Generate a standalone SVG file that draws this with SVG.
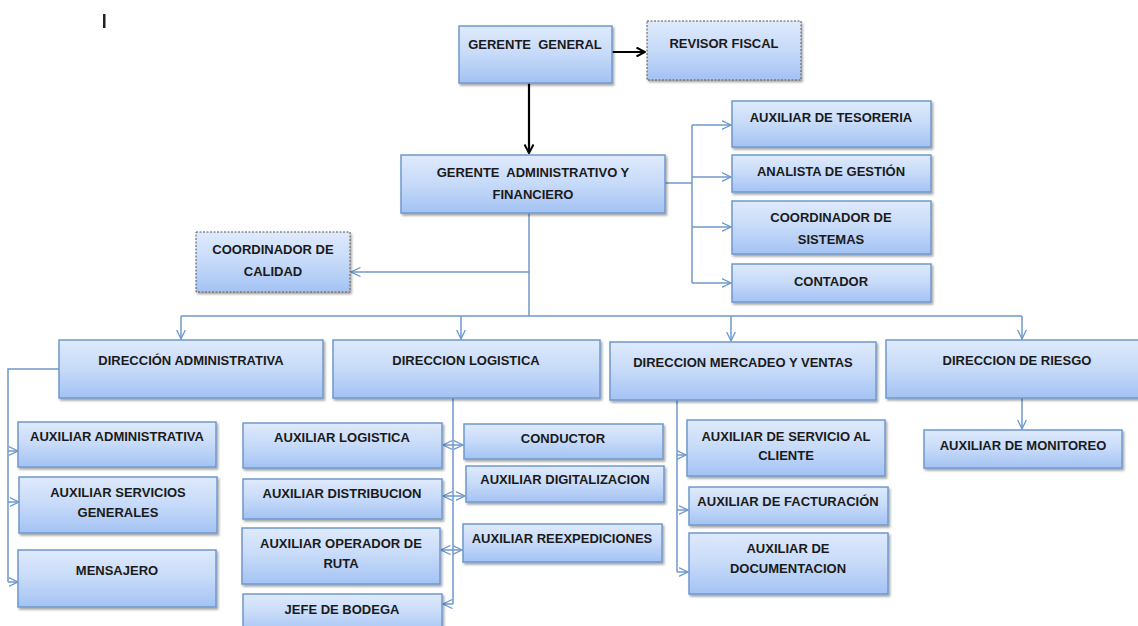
<svg xmlns="http://www.w3.org/2000/svg" width="1138" height="626" viewBox="0 0 1138 626">
<defs>
<linearGradient id="g" x1="0" y1="0" x2="0" y2="1">
<stop offset="0" stop-color="#dfeafc"/>
<stop offset="0.5" stop-color="#c6daf9"/>
<stop offset="1" stop-color="#a3c2f3"/>
</linearGradient>
<filter id="sh" x="-5%" y="-5%" width="112%" height="125%">
<feDropShadow dx="1.5" dy="2" stdDeviation="1.2" flood-color="#000" flood-opacity="0.35"/>
</filter>
<marker id="ao" viewBox="0 0 10 10" refX="9.5" refY="5" markerWidth="10" markerHeight="10" markerUnits="userSpaceOnUse" orient="auto-start-reverse">
<path d="M0,0.5 L9.5,5 L0,9.5" fill="none" stroke="#6f98cc" stroke-width="1.3"/>
</marker>
<marker id="ab" viewBox="0 0 10 10" refX="9" refY="5" markerWidth="10" markerHeight="10" markerUnits="userSpaceOnUse" orient="auto">
<path d="M0.5,0.5 L9,5 L0.5,9.5" fill="none" stroke="#000" stroke-width="2"/>
</marker>
</defs>
<style>
.n{fill:url(#g);stroke:#6f98cc;stroke-width:1.5;filter:url(#sh)}
.d{fill:url(#g);stroke:#555;stroke-width:1;stroke-dasharray:2 1.5;filter:url(#sh)}
.t{font-family:"Liberation Sans",Arial,sans-serif;font-weight:bold;font-size:13px;fill:#1a1a1a;text-anchor:middle;white-space:pre}
.c{fill:none;stroke:#6f98cc;stroke-width:1.5}
.k{fill:none;stroke:#000;stroke-width:2.2}
</style>
<rect x="103" y="14" width="2.5" height="14" fill="#222"/>
<g id="connectors">
<path class="k" d="M612,52 H645" marker-end="url(#ab)"/>
<path class="k" d="M529,83 V153" marker-end="url(#ab)"/>
<path class="c" d="M665,183 H692"/>
<path class="c" d="M692,125 V283"/>
<path class="c" d="M692,125 H731" marker-end="url(#ao)"/>
<path class="c" d="M692,177 H731" marker-end="url(#ao)"/>
<path class="c" d="M692,227 H731" marker-end="url(#ao)"/>
<path class="c" d="M692,283 H731" marker-end="url(#ao)"/>
<path class="c" d="M529,213 V316"/>
<path class="c" d="M529,272 H351" marker-end="url(#ao)"/>
<path class="c" d="M181,316 H1022"/>
<path class="c" d="M181,316 V339" marker-end="url(#ao)"/>
<path class="c" d="M461,316 V339" marker-end="url(#ao)"/>
<path class="c" d="M731,316 V341" marker-end="url(#ao)"/>
<path class="c" d="M1022,316 V339" marker-end="url(#ao)"/>
<path class="c" d="M59,369 H8 V582"/>
<path class="c" d="M8,451 H18" marker-end="url(#ao)"/>
<path class="c" d="M8,502 H19" marker-end="url(#ao)"/>
<path class="c" d="M8,582 H18" marker-end="url(#ao)"/>
<path class="c" d="M453,398 V604"/>
<path class="c" d="M443,445 H463" marker-start="url(#ao)" marker-end="url(#ao)"/>
<path class="c" d="M443,496 H465" marker-start="url(#ao)" marker-end="url(#ao)"/>
<path class="c" d="M441,550 H462" marker-start="url(#ao)" marker-end="url(#ao)"/>
<path class="c" d="M453,604 H443" marker-end="url(#ao)"/>
<path class="c" d="M677,400 V572"/>
<path class="c" d="M677,455 H686" marker-end="url(#ao)"/>
<path class="c" d="M677,510 H688" marker-end="url(#ao)"/>
<path class="c" d="M677,572 H688" marker-end="url(#ao)"/>
<path class="c" d="M1022,398 V429" marker-end="url(#ao)"/>
</g>
<g id="gerente-general"><rect class="n" x="459" y="26" width="153" height="57"/><text class="t" x="535" y="49" xml:space="preserve">GERENTE  GENERAL</text></g>
<g id="revisor-fiscal"><rect class="d" x="647" y="21" width="154" height="59"/><text class="t" x="724" y="48">REVISOR FISCAL</text></g>
<g id="gerente-admin"><rect class="n" x="401" y="155" width="264" height="58"/><text class="t" x="533" y="177" xml:space="preserve">GERENTE  ADMINISTRATIVO Y</text><text class="t" x="533" y="199">FINANCIERO</text></g>
<g id="aux-tesoreria"><rect class="n" x="732" y="101" width="199" height="46"/><text class="t" x="831" y="122">AUXILIAR DE TESORERIA</text></g>
<g id="analista-gestion"><rect class="n" x="732" y="155" width="199" height="37"/><text class="t" x="831" y="176">ANALISTA DE GESTIÓN</text></g>
<g id="coord-sistemas"><rect class="n" x="732" y="201" width="199" height="53"/><text class="t" x="831" y="222">COORDINADOR DE</text><text class="t" x="831" y="244">SISTEMAS</text></g>
<g id="contador"><rect class="n" x="732" y="264" width="199" height="38"/><text class="t" x="831" y="286">CONTADOR</text></g>
<g id="coord-calidad"><rect class="d" x="196" y="232" width="154" height="60"/><text class="t" x="273" y="254">COORDINADOR DE</text><text class="t" x="273" y="276">CALIDAD</text></g>
<g id="dir-administrativa"><rect class="n" x="59" y="340" width="264" height="58"/><text class="t" x="191" y="365">DIRECCIÓN ADMINISTRATIVA</text></g>
<g id="dir-logistica"><rect class="n" x="333" y="340" width="267" height="58"/><text class="t" x="466" y="365">DIRECCION LOGISTICA</text></g>
<g id="dir-mercadeo"><rect class="n" x="610" y="342" width="266" height="58"/><text class="t" x="743" y="367">DIRECCION MERCADEO Y VENTAS</text></g>
<g id="dir-riesgo"><rect class="n" x="886" y="340" width="260" height="58"/><text class="t" x="1017" y="365">DIRECCION DE RIESGO</text></g>
<g id="aux-administrativa"><rect class="n" x="18" y="422" width="198" height="45"/><text class="t" x="117" y="441">AUXILIAR ADMINISTRATIVA</text></g>
<g id="aux-servicios"><rect class="n" x="19" y="477" width="198" height="56"/><text class="t" x="118" y="497">AUXILIAR SERVICIOS</text><text class="t" x="118" y="517">GENERALES</text></g>
<g id="mensajero"><rect class="n" x="18" y="550" width="198" height="57"/><text class="t" x="117" y="575">MENSAJERO</text></g>
<g id="aux-logistica"><rect class="n" x="243" y="423" width="199" height="45"/><text class="t" x="342" y="442">AUXILIAR LOGISTICA</text></g>
<g id="aux-distribucion"><rect class="n" x="243" y="479" width="199" height="40"/><text class="t" x="342" y="498">AUXILIAR DISTRIBUCION</text></g>
<g id="aux-operador"><rect class="n" x="242" y="528" width="198" height="56"/><text class="t" x="341" y="548">AUXILIAR OPERADOR DE</text><text class="t" x="341" y="568">RUTA</text></g>
<g id="jefe-bodega"><rect class="n" x="243" y="594" width="199" height="40"/><text class="t" x="342" y="614">JEFE DE BODEGA</text></g>
<g id="conductor"><rect class="n" x="464" y="424" width="199" height="35"/><text class="t" x="563" y="443">CONDUCTOR</text></g>
<g id="aux-digitalizacion"><rect class="n" x="466" y="466" width="198" height="36"/><text class="t" x="565" y="484">AUXILIAR DIGITALIZACION</text></g>
<g id="aux-reexpediciones"><rect class="n" x="463" y="524" width="199" height="38"/><text class="t" x="562" y="543">AUXILIAR REEXPEDICIONES</text></g>
<g id="aux-servicio-cliente"><rect class="n" x="687" y="420" width="198" height="56"/><text class="t" x="786" y="441">AUXILIAR DE SERVICIO AL</text><text class="t" x="786" y="460">CLIENTE</text></g>
<g id="aux-facturacion"><rect class="n" x="689" y="487" width="199" height="38"/><text class="t" x="788" y="506">AUXILIAR DE FACTURACIÓN</text></g>
<g id="aux-documentacion"><rect class="n" x="689" y="533" width="199" height="61"/><text class="t" x="788" y="553">AUXILIAR DE</text><text class="t" x="788" y="573">DOCUMENTACION</text></g>
<g id="aux-monitoreo"><rect class="n" x="924" y="430" width="198" height="38"/><text class="t" x="1023" y="450">AUXILIAR DE MONITOREO</text></g>
</svg>
